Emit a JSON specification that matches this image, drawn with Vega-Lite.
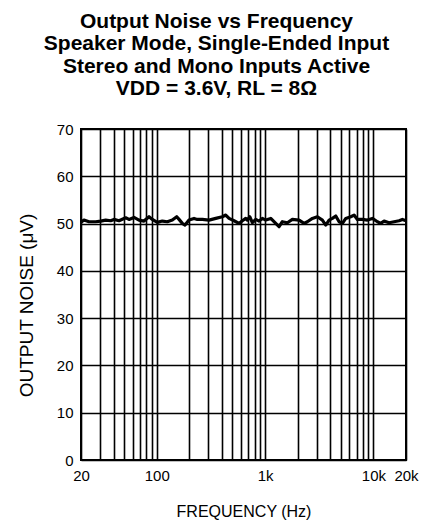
{
  "$schema": "https://vega.github.io/schema/vega-lite/v6.json",
  "width": 325,
  "height": 331,
  "autosize": {"type": "none"},
  "padding": {"left": 81, "top": 129, "right": 21, "bottom": 68},
  "background": "white",
  "config": {
    "font": "Liberation Sans",
    "view": {"stroke": "black", "strokeWidth": 2},
    "axis": {"labelColor": "black", "titleColor": "black", "domain": false, "ticks": false, "gridColor": "black", "gridOpacity": 1, "gridWidth": 1.6, "labelFont": "Liberation Sans", "titleFont": "Liberation Sans", "titleFontWeight": "normal"}
  },
  "title": {
    "text": ["Output Noise vs Frequency", "Speaker Mode, Single-Ended Input", "Stereo and Mono Inputs Active", "VDD = 3.6V, RL = 8Ω"],
    "font": "Liberation Sans",
    "fontSize": 21,
    "fontWeight": "bold",
    "lineHeight": 22.5,
    "color": "black",
    "anchor": "middle",
    "frame": "group",
    "dx": -27,
    "offset": 23
  },
  "data": {
    "values": [
      {"f": 20, "v": 50.26},
      {"f": 21.3, "v": 50.74},
      {"f": 23.7, "v": 50.39},
      {"f": 27.3, "v": 50.39},
      {"f": 30.4, "v": 50.53},
      {"f": 33.8, "v": 50.74},
      {"f": 37.6, "v": 50.6},
      {"f": 40.3, "v": 50.88},
      {"f": 44.9, "v": 50.6},
      {"f": 51.7, "v": 51.23},
      {"f": 55.5, "v": 50.88},
      {"f": 61.7, "v": 51.3},
      {"f": 68.6, "v": 50.74},
      {"f": 76.3, "v": 50.53},
      {"f": 84.9, "v": 51.45},
      {"f": 91.1, "v": 50.88},
      {"f": 101.3, "v": 50.26},
      {"f": 112.6, "v": 50.53},
      {"f": 125.3, "v": 50.39},
      {"f": 139.3, "v": 50.74},
      {"f": 153, "v": 51.45},
      {"f": 160.7, "v": 50.88},
      {"f": 172.4, "v": 50.04},
      {"f": 182.5, "v": 49.69},
      {"f": 198.7, "v": 50.74},
      {"f": 221, "v": 51.09},
      {"f": 237, "v": 50.88},
      {"f": 263.6, "v": 50.88},
      {"f": 304, "v": 50.74},
      {"f": 350.6, "v": 51.09},
      {"f": 403.5, "v": 51.45},
      {"f": 433.7, "v": 51.8},
      {"f": 465.2, "v": 51.09},
      {"f": 517.3, "v": 50.6},
      {"f": 575.3, "v": 50.04},
      {"f": 617.3, "v": 50.6},
      {"f": 663.3, "v": 51.09},
      {"f": 686.3, "v": 50.74},
      {"f": 722.3, "v": 51.45},
      {"f": 763.2, "v": 50.18},
      {"f": 820.7, "v": 50.88},
      {"f": 880.4, "v": 50.53},
      {"f": 944.3, "v": 51.09},
      {"f": 1015, "v": 50.74},
      {"f": 1129, "v": 51.09},
      {"f": 1255, "v": 50.04},
      {"f": 1347, "v": 49.34},
      {"f": 1444, "v": 50.39},
      {"f": 1607, "v": 50.18},
      {"f": 1787, "v": 50.88},
      {"f": 2060, "v": 50.74},
      {"f": 2292, "v": 50.04},
      {"f": 2458, "v": 50.39},
      {"f": 2734, "v": 51.09},
      {"f": 3040, "v": 51.45},
      {"f": 3381, "v": 50.74},
      {"f": 3635, "v": 49.69},
      {"f": 3899, "v": 50.74},
      {"f": 4183, "v": 51.09},
      {"f": 4497, "v": 51.59},
      {"f": 4824, "v": 50.39},
      {"f": 5173, "v": 50.04},
      {"f": 5563, "v": 51.09},
      {"f": 6184, "v": 51.45},
      {"f": 6633, "v": 51.8},
      {"f": 7117, "v": 50.88},
      {"f": 7914, "v": 50.88},
      {"f": 8804, "v": 50.74},
      {"f": 9790, "v": 51.09},
      {"f": 10890, "v": 50.39},
      {"f": 11700, "v": 50.04},
      {"f": 12550, "v": 50.53},
      {"f": 13960, "v": 50.18},
      {"f": 15530, "v": 50.39},
      {"f": 17280, "v": 50.6},
      {"f": 18530, "v": 50.88},
      {"f": 20000, "v": 50.6}
    ]
  },
  "mark": {"type": "line", "color": "black", "strokeWidth": 3.2, "strokeJoin": "round"},
  "encoding": {
    "x": {
      "field": "f",
      "type": "quantitative",
      "scale": {"type": "log", "domain": [20, 20000], "nice": false},
      "axis": {
        "title": "FREQUENCY (Hz)",
        "titleFontSize": 16,
        "titlePadding": 20,
        "labelFontSize": 15,
        "labelPadding": 8,
        "values": [20, 30, 40, 50, 60, 70, 80, 90, 100, 200, 300, 400, 500, 600, 700, 800, 900, 1000, 2000, 3000, 4000, 5000, 6000, 7000, 8000, 9000, 10000, 20000],
        "labelExpr": "datum.value == 20 ? '20' : datum.value == 100 ? '100' : datum.value == 1000 ? '1k' : datum.value == 10000 ? '10k' : datum.value == 20000 ? '20k' : ''",
        "labelFlush": false,
        "labelOverlap": false
      }
    },
    "y": {
      "field": "v",
      "type": "quantitative",
      "scale": {"domain": [0, 70], "nice": false},
      "axis": {
        "title": "OUTPUT NOISE (μV)",
        "titleFontSize": 19,
        "titlePadding": 20,
        "titleY": 176,
        "labelFontSize": 15,
        "labelPadding": 8,
        "values": [0, 10, 20, 30, 40, 50, 60, 70],
        "labelFlush": false
      }
    }
  }
}
